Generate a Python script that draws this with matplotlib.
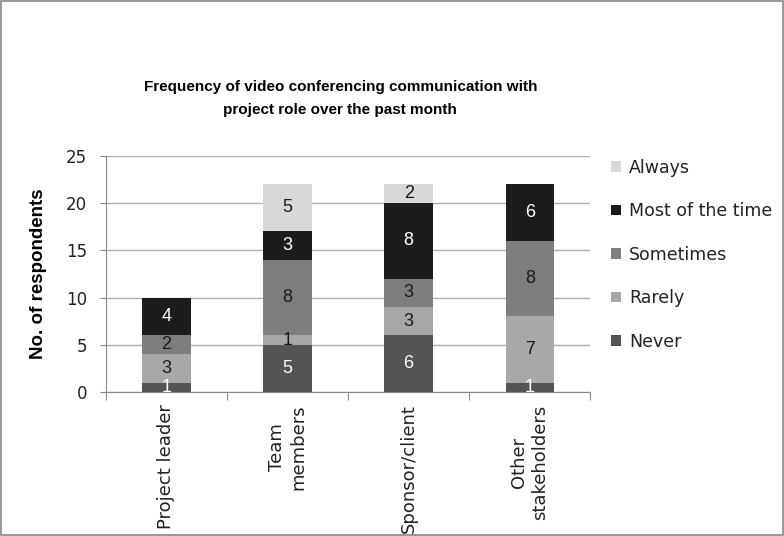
import numpy as np
import matplotlib.pyplot as plt

plt.rcParams['font.family'] = ['DejaVu Sans']

categories = ['Project leader', 'Team\nmembers', 'Sponsor/client', 'Other\nstakeholders']
series = ['Never', 'Rarely', 'Sometimes', 'Most of the time', 'Always']
never = [1, 5, 6, 1]
rarely = [3, 1, 3, 7]
sometimes = [2, 8, 3, 8]
most = [4, 3, 8, 6]
always = [0, 5, 2, 0]

values = [never, rarely, sometimes, most, always]
colors = ['#545454', '#a8a8a8', '#7e7e7e', '#1c1c1c', '#d8d8d8']
text_colors = ['white', '#1a1a1a', '#1a1a1a', 'white', '#1a1a1a']

fig = plt.figure(figsize=(7.84, 5.36), dpi=100)
fig.patch.set_edgecolor('#9a9a9a')
fig.patch.set_linewidth(1.5)
ax = fig.add_axes([0.135, 0.2687, 0.618, 0.4403])

x = np.arange(len(categories))
bottom = np.zeros(len(categories))
handles = []
for vals, c, tc, name in zip(values, colors, text_colors, series):
    vals = np.array(vals, dtype=float)
    bars = ax.bar(x, vals, width=0.4, bottom=bottom, color=c, label=name, zorder=3)
    handles.append(bars)
    for xi, v, b in zip(x, vals, bottom):
        if v > 0:
            ax.text(xi, b + v / 2, f'{int(v)}', ha='center', va='center',
                    color=tc, fontsize=13, family='Liberation Sans', zorder=4)
    bottom += vals

ax.set_xlim(-0.5, 3.5)
ax.set_ylim(0, 25)
ax.set_yticks(np.arange(0, 26, 5))
ax.tick_params(axis='y', labelsize=12, length=4.3, pad=9, color='#888888',
               labelcolor='#222222')
ax.yaxis.grid(True, color='#b0b0b0', linewidth=1, zorder=0)

ax.set_xticks(np.arange(-0.5, 4, 1))
ax.set_xticklabels([])
ax.tick_params(axis='x', which='major', length=6, color='#888888')
ax.set_xticks(x, minor=True)
ax.set_xticklabels(categories, minor=True, rotation=90, fontsize=13,
                   multialignment='center', color='#222222')
ax.tick_params(axis='x', which='minor', length=0, pad=9)

for s in ['top', 'right']:
    ax.spines[s].set_visible(False)
for s in ['left', 'bottom']:
    ax.spines[s].set_color('#888888')

ax.set_ylabel('No. of respondents', fontsize=13.5, fontweight='bold',
              family='Liberation Sans', labelpad=14)

fig.text(0.434, 0.816, 'Frequency of video conferencing communication with\nproject role over the past month',
         ha='center', va='center', fontsize=11, fontweight='bold',
         family='Liberation Sans', linespacing=1.75)

leg = fig.legend(handles[::-1], series[::-1], loc='upper left',
                 bbox_to_anchor=(0.76, 0.733), frameon=False, fontsize=12.5,
                 handlelength=0.55, handleheight=0.55, handletextpad=0.45,
                 labelspacing=1.47, labelcolor='#222222')

fig.savefig('out.png', dpi=100)
